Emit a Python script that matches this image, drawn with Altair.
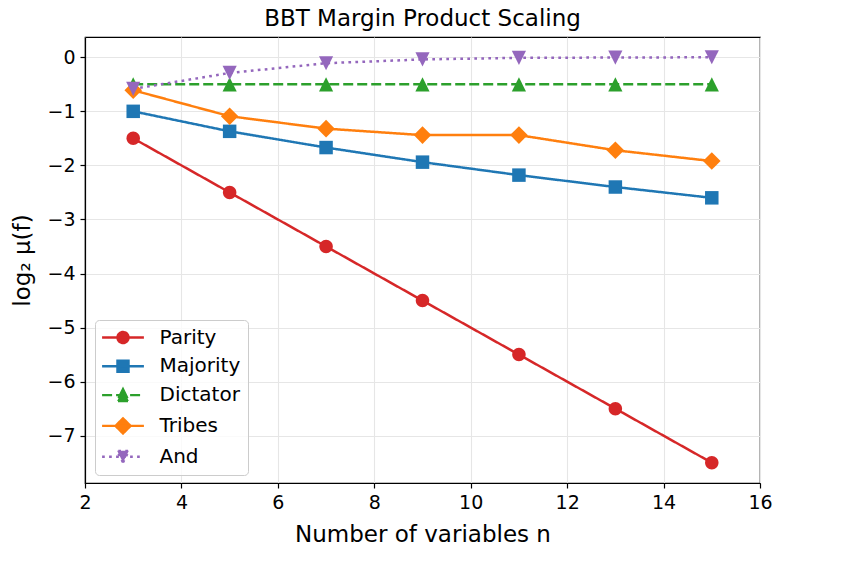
import altair as alt
import pandas as pd

# ---- data ----
n_values = [3, 5, 7, 9, 11, 13, 15]
series_names = ["Parity", "Majority", "Dictator", "Tribes", "And"]
parity = [-1.5, -2.5, -3.5, -4.5, -5.5, -6.5, -7.5]
majority = [-1.0, -1.37, -1.67, -1.94, -2.18, -2.40, -2.60]
dictator = [-0.5, -0.5, -0.5, -0.5, -0.5, -0.5, -0.5]
tribes = [-0.61, -1.09, -1.32, -1.44, -1.44, -1.72, -1.92]
and_vals = [-0.585, -0.29, -0.11, -0.04, -0.01, -0.005, 0.0]

x_ticks = [2, 4, 6, 8, 10, 12, 14, 16]
y_ticks = [-7, -6, -5, -4, -3, -2, -1, 0]

colors = ["#d62728", "#1f77b4", "#2ca02c", "#ff7f0e", "#9467bd"]
dashes = [[1, 0], [1, 0], [10, 4], [1, 0], [2.7, 4.3]]

# marker shapes (unit = sqrt(size)/2)
marker_paths = [
    "M1,0A1,1,0,1,1,-1,0A1,1,0,1,1,1,0Z",
    "M-1,-1H1V1H-1Z",
    "M0,-1.05L1.05,1.05L-1.05,1.05Z",
    "M0,-1.3L1.3,0L0,1.3L-1.3,0Z",
    "M0,1.05L1.05,-1.05L-1.05,-1.05Z",
]
# legend handles: line through a marker
legend_paths = [
    "M-3.1,0L3.1,0M0.82,0A0.82,0.82,0,1,1,-0.82,0A0.82,0.82,0,1,1,0.82,0Z",
    "M-3.1,0L3.1,0M-0.82,-0.82H0.82V0.82H-0.82Z",
    "M-3.1,0L3.1,0M0,-0.87L0.87,0.87L-0.87,0.87Z",
    "M-3.1,0L3.1,0M0,-1.12L1.12,0L0,1.12L-1.12,0Z",
    "M-3.1,0L3.1,0M0,0.87L0.87,-0.87L-0.87,-0.87Z",
]

rows = []
for name, vals in zip(series_names, [parity, majority, dictator, tribes, and_vals]):
    for k, (n, v) in enumerate(zip(n_values, vals)):
        rows.append({"series": name, "n": n, "value": v,
                     "order": series_names.index(name) * 100 + k})
df = pd.DataFrame(rows)

FONT = "DejaVu Sans"

x_enc = alt.X("n:Q", scale=alt.Scale(domain=[2, 16], nice=False, zero=False),
              axis=alt.Axis(values=x_ticks, title="Number of variables n",
                            titlePadding=11, format="d"))
y_enc = alt.Y("value:Q", scale=alt.Scale(domain=[-7.875, 0.375], nice=False, zero=False),
              axis=alt.Axis(values=y_ticks, title="log₂ μ(f)", titlePadding=12, format="d"))

color_scale = alt.Scale(domain=series_names, range=colors)
dash_scale = alt.Scale(domain=series_names, range=dashes)

base = alt.Chart(df)

lines = base.mark_line(strokeWidth=2.5, strokeCap="butt").encode(
    x=x_enc, y=y_enc,
    color=alt.Color("series:N", scale=color_scale, legend=None),
    strokeDash=alt.StrokeDash("series:N", scale=dash_scale, legend=None),
    detail="series:N",
    order="n:Q",
)

points = base.mark_point(filled=True, opacity=1, size=182).encode(
    x=x_enc, y=y_enc,
    color=alt.Color("series:N", scale=color_scale, legend=None),
    shape=alt.Shape("series:N", scale=alt.Scale(domain=series_names, range=marker_paths), legend=None),
    order="order:Q",
)

legend_layer = base.transform_filter("false").mark_point(
    filled=True, opacity=1, size=182, strokeWidth=2.4
).encode(
    color=alt.Color("series:N", scale=color_scale, legend=alt.Legend(title=None)),
    stroke=alt.Stroke("series:N", scale=color_scale, legend=alt.Legend(title=None)),
    shape=alt.Shape("series:N", scale=alt.Scale(domain=series_names, range=legend_paths),
                    legend=alt.Legend(title=None)),
    strokeDash=alt.StrokeDash("series:N", scale=dash_scale, legend=alt.Legend(title=None)),
)

chart = alt.layer(lines, points, legend_layer).resolve_scale(
    color="independent", shape="independent", strokeDash="independent", stroke="independent"
).properties(
    width=675, height=446,
    title=alt.Title("BBT Margin Product Scaling", fontSize=23, font=FONT,
                    fontWeight="normal", color="black", anchor="middle", offset=6),
    autosize=alt.AutoSizeParams(type="none"),
    padding={"left": 85, "top": 37, "right": 101, "bottom": 105},
).configure_view(
    stroke="black", strokeWidth=1.2
).configure_axis(
    labelFont=FONT, labelFontSize=19, labelColor="black", labelFlush=False,
    titleFont=FONT, titleFontSize=23, titleColor="black", titleFontWeight="normal",
    domainColor="black", domainWidth=1.2, tickColor="black", tickWidth=1.2, tickSize=5,
    labelPadding=5, gridColor="#e6e6e6", gridWidth=1.1,
).configure_legend(
    orient="none", legendX=10, legendY=283, direction="vertical",
    padding=7.5, fillColor="rgba(255,255,255,0.8)", strokeColor="#cccccc",
    cornerRadius=4, labelFont=FONT, labelFontSize=20, labelColor="black",
    symbolSize=182, symbolStrokeWidth=2.4, symbolOffset=10.5, labelOffset=26.5,
    rowPadding=6.8,
)

chart.save("out.html", embed_options={"renderer": "svg", "actions": False})
